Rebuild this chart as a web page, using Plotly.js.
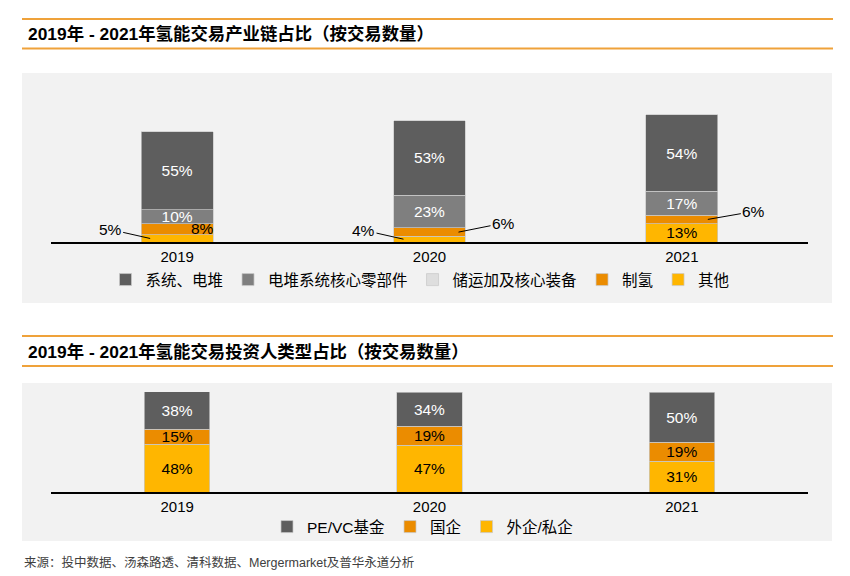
<!DOCTYPE html>
<html>
<head>
<meta charset="utf-8">
<script src="https://cdn.plot.ly/plotly-3.0.1.min.js"></script>
<style>html,body{margin:0;padding:0;background:#fff;}#chart{width:850px;height:576px;}</style>
</head>
<body>
<div id="chart"></div>
<script>
// ---------- data ----------
const years = ['2019', '2020', '2021'];

// chart 1: industry chain share (by deal count), %
const chainSystem = [55, 53, 54];      // 系统、电堆
const chainParts = [10, 23, 17];       // 电堆系统核心零部件
const chainStorage = [null, null, null]; // 储运加及核心装备 (not shown in picture)
const chainHydrogen = [8, 6, 6];       // 制氢
const chainOther = [5, 4, 13];         // 其他

// chart 2: investor type share (by deal count), %
const invPEVC = [38, 34, 50];          // PE/VC基金
const invSOE = [15, 19, 19];           // 国企
const invPrivate = [48, 47, 31];       // 外企/私企

const title1 = '2019年 - 2021年氢能交易产业链占比（按交易数量）';
const title2 = '2019年 - 2021年氢能交易投资人类型占比（按交易数量）';
const sourceText = '来源：投中数据、汤森路透、清科数据、Mergermarket及普华永道分析';

// ---------- styling ----------
const C_DARK = '#5e5e5e', C_GRAY = '#7f7f7f', C_LIGHT = '#dedede', C_ORANGE = '#eb8c00', C_YELLOW = '#ffb600';
const ORANGE_RULE = '#efa23a';
const BG = '#f2f2f2';
const FONT = '"Liberation Sans", Arial, "Noto Sans CJK SC", sans-serif';
const W = 850, H = 576;
const fx = p => p / W;
const fy = p => 1 - p / H;

const pct = v => (v == null ? '' : v + '%');
// which segments carry their label inside the bar
const inside = (vals, flags) => vals.map((v, i) => flags[i] ? pct(v) : '');

function bar(name, vals, color, textColor, text, xa, ya, legend, width) {
  return {
    type: 'bar', name: name, x: years, y: vals,
    xaxis: xa, yaxis: ya, legend: legend, width: width,
    marker: {color: color, line: {color: 'rgba(200,200,200,0.9)', width: 0.8}},
    text: text, textposition: 'inside', insidetextanchor: 'middle',
    textangle: 0, constraintext: 'none',
    textfont: {family: FONT, size: 15.5, color: textColor},
    hoverinfo: 'name+y'
  };
}

const W1 = 0.285, W2 = 0.26;
const traces = [
  bar('其他', chainOther, C_YELLOW, '#000', inside(chainOther, [false, false, true]), 'x', 'y', 'legend', W1),
  bar('制氢', chainHydrogen, C_ORANGE, '#000', inside(chainHydrogen, [false, false, false]), 'x', 'y', 'legend', W1),
  bar('储运加及核心装备', chainStorage, C_LIGHT, '#000', inside(chainStorage, [false, false, false]), 'x', 'y', 'legend', W1),
  bar('电堆系统核心零部件', chainParts, C_GRAY, '#fff', inside(chainParts, [true, true, true]), 'x', 'y', 'legend', W1),
  bar('系统、电堆', chainSystem, C_DARK, '#fff', inside(chainSystem, [true, true, true]), 'x', 'y', 'legend', W1),

  bar('外企/私企', invPrivate, C_YELLOW, '#000', inside(invPrivate, [true, true, true]), 'x2', 'y2', 'legend2', W2),
  bar('国企', invSOE, C_ORANGE, '#000', inside(invSOE, [true, true, true]), 'x2', 'y2', 'legend2', W2),
  bar('PE/VC基金', invPEVC, C_DARK, '#fff', inside(invPEVC, [true, true, true]), 'x2', 'y2', 'legend2', W2)
];

// outside / offset labels for chart 1, placed at the middle of their segment
const annFont = {family: FONT, size: 15.5, color: '#000'};
function segLabel(i, base, v, xshift, ax, ay, arrow) {
  return {
    xref: 'x', yref: 'y', x: years[i], y: base + v / 2, text: pct(v),
    xshift: xshift, showarrow: arrow, ax: ax, ay: ay, axref: 'pixel', ayref: 'pixel',
    arrowhead: 0, arrowwidth: 1, arrowcolor: '#000', standoff: 0,
    font: annFont
  };
}
const labelAnns = [
  segLabel(0, 0, chainOther[0], -27, -40, -9, true),
  segLabel(1, 0, chainOther[1], -26, -40, -9, true),
  segLabel(1, chainOther[1], chainHydrogen[1], 29, 45, -9, true),
  segLabel(2, chainOther[2], chainHydrogen[2], 26, 46, -8, true),
  Object.assign(segLabel(0, chainOther[0], chainHydrogen[0], 25, 0, 0, false), {yshift: 1})
];

const textAnns = [
  {xref: 'paper', yref: 'paper', x: fx(26), y: fy(34), xanchor: 'left', yanchor: 'middle', showarrow: false,
   text: '<b>' + title1 + '</b>', font: {family: FONT, size: 17.4, color: '#000'}},
  {xref: 'paper', yref: 'paper', x: fx(26), y: fy(352), xanchor: 'left', yanchor: 'middle', showarrow: false,
   text: '<b>' + title2 + '</b>', font: {family: FONT, size: 17.4, color: '#000'}},
  {xref: 'paper', yref: 'paper', x: fx(22), y: fy(562), xanchor: 'left', yanchor: 'middle', showarrow: false,
   text: sourceText, font: {family: FONT, size: 12.5, color: '#404040'}}
];

function rule(py) {
  return {type: 'line', xref: 'paper', yref: 'paper', x0: fx(22), x1: fx(833), y0: fy(py), y1: fy(py),
          line: {color: ORANGE_RULE, width: 2}};
}
function panel(top, bottom) {
  return {type: 'rect', xref: 'paper', yref: 'paper', x0: fx(22), x1: fx(832), y0: fy(bottom), y1: fy(top),
          fillcolor: BG, line: {width: 0}, layer: 'below'};
}

const xBase = {
  domain: [fx(51), fx(808)], showline: true, linecolor: '#000', linewidth: 1.5,
  ticks: '', showgrid: false, zeroline: false, fixedrange: true,
  tickfont: {family: FONT, size: 15, color: '#000'}
};
const yBase = {range: [0, 100], visible: false, fixedrange: true};

const legendBase = {
  orientation: 'h', xanchor: 'center', yanchor: 'middle', traceorder: 'reversed',
  bgcolor: 'rgba(0,0,0,0)', font: {family: FONT, size: 15.5, color: '#000'}
};

const layout = {
  width: W, height: H, margin: {l: 0, r: 0, t: 0, b: 0},
  paper_bgcolor: '#fff', plot_bgcolor: 'rgba(0,0,0,0)',
  barmode: 'stack', bargap: 0,
  font: {family: FONT, size: 15, color: '#000'},
  showlegend: true,
  xaxis: Object.assign({}, xBase, {anchor: 'y'}),
  yaxis: Object.assign({}, yBase, {domain: [fy(242), fy(242 - 141.2)], anchor: 'x'}),
  xaxis2: Object.assign({}, xBase, {anchor: 'y2'}),
  yaxis2: Object.assign({}, yBase, {domain: [fy(492), fy(392)], anchor: 'x2'}),
  legend: Object.assign({}, legendBase, {x: fx(420), y: fy(280)}),
  legend2: Object.assign({}, legendBase, {x: fx(423), y: fy(527)}),
  shapes: [panel(73, 303), panel(383, 541), rule(19), rule(48.5), rule(336), rule(366)],
  annotations: labelAnns.concat(textAnns)
};

Plotly.newPlot('chart', traces, layout, {displayModeBar: false, staticPlot: true});
</script>
</body>
</html>
